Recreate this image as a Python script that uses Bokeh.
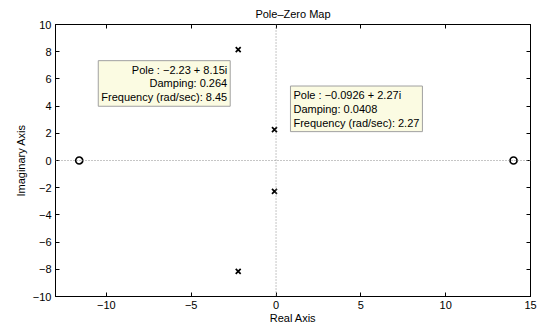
from bokeh.plotting import figure
from bokeh.models import LinearAxis, FixedTicker, Span, Label, Range1d
from bokeh.embed import file_html
from bokeh.resources import INLINE

# ---- data ----
pole_re = [-2.23, -2.23, -0.0926, -0.0926]
pole_im = [8.15, -8.15, 2.27, -2.27]
zero_re = [-11.6, 14.0]
zero_im = [0.0, 0.0]

x_lim = [-13, 15]
y_lim = [-10, 10]
x_ticks = [-10, -5, 0, 5, 10, 15]
y_ticks = [-10, -8, -6, -4, -2, 0, 2, 4, 6, 8, 10]

title_text = "Pole\u2013Zero Map"
tip1_lines = ["Pole : \u22122.23 + 8.15i", "Damping: 0.264", "Frequency (rad/sec): 8.45"]
tip2_lines = ["Pole : \u22120.0926 + 2.27i", "Damping: 0.0408", "Frequency (rad/sec): 2.27"]

FONT = "Liberation Sans"

def fmt(v):
    return str(v).replace("-", "\u2212")

p = figure(width=539, height=327, output_backend="svg", toolbar_location=None,
           x_range=Range1d(*x_lim), y_range=Range1d(*y_lim),
           title=title_text,
           min_border_left=55, min_border_right=9, min_border_top=23, min_border_bottom=31)
p.xgrid.visible = False
p.ygrid.visible = False
p.background_fill_color = "white"
p.border_fill_color = "white"
p.outline_line_color = "black"
p.outline_line_width = 1

p.title.align = "center"
p.title.text_font = FONT
p.title.text_font_size = "11px"
p.title.text_font_style = "normal"
p.title.text_color = "black"
p.title.standoff = 10
p.title.offset = 0

def style_axis(ax, ticks, show_labels, label=None, label_standoff=3, standoff=4):
    ax.ticker = FixedTicker(ticks=ticks)
    ax.major_tick_in = 4
    ax.major_tick_out = 0
    ax.minor_tick_in = 0
    ax.minor_tick_out = 0
    ax.axis_line_color = "black"
    ax.major_tick_line_color = "black"
    ax.major_label_text_font = FONT
    ax.major_label_text_font_size = "11px"
    ax.major_label_text_color = "black"
    ax.major_label_standoff = standoff
    if show_labels:
        ax.major_label_overrides = {t: fmt(t) for t in ticks}
    else:
        ax.major_label_overrides = {t: "" for t in ticks}
    if label:
        ax.axis_label = label
        ax.axis_label_text_font = FONT
        ax.axis_label_text_font_size = "11px"
        ax.axis_label_text_font_style = "normal"
        ax.axis_label_text_color = "black"
        ax.axis_label_standoff = label_standoff

style_axis(p.xaxis[0], x_ticks, True, "Real Axis", 0)
style_axis(p.yaxis[0], y_ticks, True, "Imaginary Axis", 3)
top = LinearAxis()
right = LinearAxis()
style_axis(top, x_ticks, False, standoff=0)
style_axis(right, y_ticks, False, standoff=0)
p.add_layout(top, "above")
p.add_layout(right, "right")

p.add_layout(Span(location=0, dimension="width", line_color="#8c8c8c", line_dash="1 2", line_width=1))
p.add_layout(Span(location=0, dimension="height", line_color="#8c8c8c", line_dash="1 2", line_width=1))

p.scatter(pole_re, pole_im, marker="x", size=7, line_color="black", line_width=1.7)
p.scatter(zero_re, zero_im, marker="circle", size=7, line_color="black", fill_color="white", line_width=1.7)

common = dict(text_font=FONT, text_font_size="11px", text_color="black",
              background_fill_color="#fbfbe2", border_line_color="#a0a0a0",
              border_line_width=1, padding=3, text_line_height=1.15)
p.add_layout(Label(x=pole_re[0], y=pole_im[0], text="\n".join(tip1_lines),
                   text_align="right", text_baseline="top",
                   x_offset=-8, y_offset=-11, **common))
p.add_layout(Label(x=pole_re[2], y=pole_im[2], text="\n".join(tip2_lines),
                   text_align="left", text_baseline="bottom",
                   x_offset=16, y_offset=-2, **common))

open("out.html", "w").write(file_html(p, INLINE))
